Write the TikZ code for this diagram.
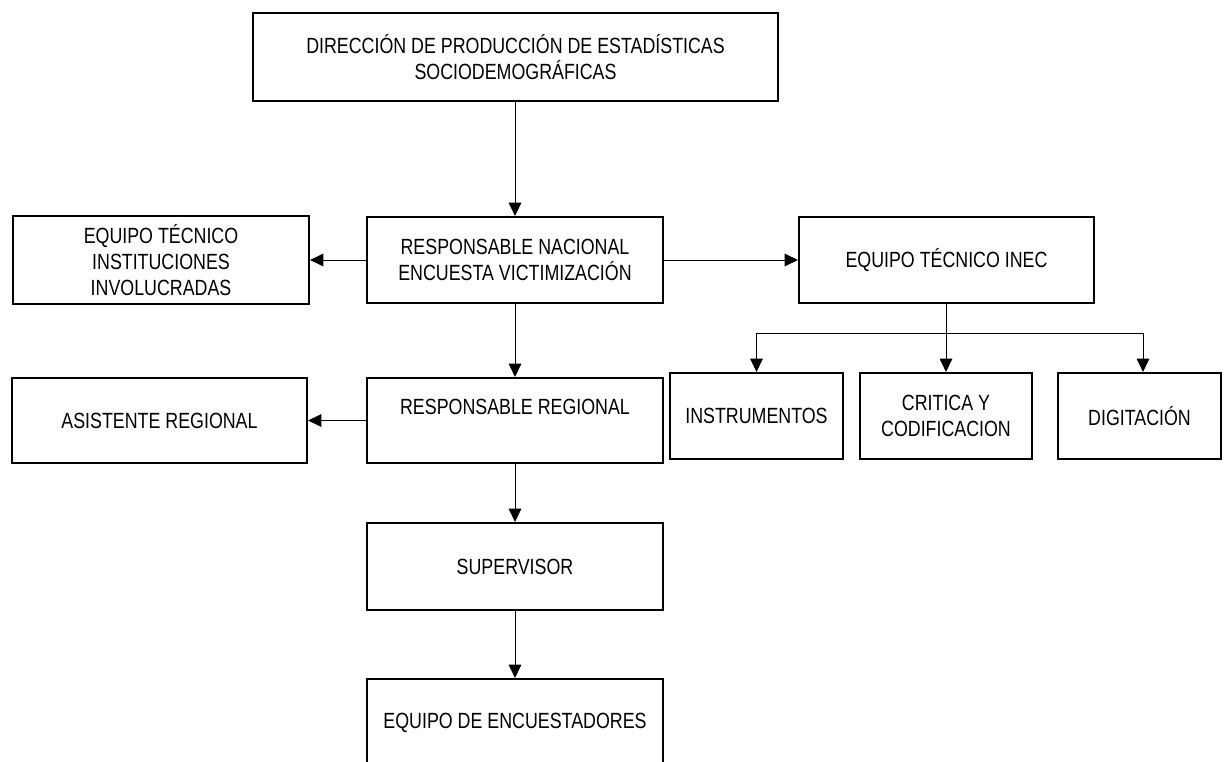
\documentclass[tikz,border=0pt]{standalone}
\usepackage{fontspec}
\setmainfont[FakeStretch=0.81]{Liberation Sans}
\usetikzlibrary{arrows.meta}
\begin{document}
\begin{tikzpicture}[x=0.75pt,y=-0.75pt,
  box/.style={draw=black, line width=1.6pt, align=center, inner sep=0pt,
    font=\fontsize{16.5pt}{19.8pt}\selectfont},
  conn/.style={draw=black, line width=0.7pt},
  arr/.style={conn, -{Triangle[length=10pt,width=9.5pt]}}]
\useasboundingbox (0,0) rectangle (1224,762);
\fill[white] (0,0) rectangle (1224,762);
\clip (0,0) rectangle (1224,762);

\node[box, minimum width=393.75pt, minimum height=66pt] (dir) at (515.5,57)
  {DIRECCIÓN DE PRODUCCIÓN DE ESTADÍSTICAS\\SOCIODEMOGRÁFICAS};
\node[box, minimum width=222pt, minimum height=66pt] (eti) at (161,260)
  {EQUIPO TÉCNICO\\INSTITUCIONES\\INVOLUCRADAS};
\node[box, minimum width=222pt, minimum height=64.5pt] (rn) at (515,260)
  {RESPONSABLE NACIONAL\\ENCUESTA VICTIMIZACIÓN};
\node[box, minimum width=221.25pt, minimum height=64.5pt] (inec) at (946.5,260)
  {EQUIPO TÉCNICO INEC};
\node[box, minimum width=221.25pt, minimum height=63.75pt] (ar) at (159.5,420.5)
  {ASISTENTE REGIONAL};
\node[box, minimum width=222pt, minimum height=63.75pt] (rr) at (515,420.5)
  {RESPONSABLE REGIONAL\\\mbox{}};
\node[box, minimum width=129.75pt, minimum height=64.5pt] (instr) at (756.5,416)
  {INSTRUMENTOS};
\node[box, minimum width=129pt, minimum height=64.5pt] (crit) at (946,416)
  {CRITICA Y\\CODIFICACION};
\node[box, minimum width=122.25pt, minimum height=64.5pt] (digit) at (1139.5,416)
  {DIGITACIÓN};
\node[box, minimum width=222pt, minimum height=65.25pt] (sup) at (515,566.5)
  {SUPERVISOR};
\node[box, minimum width=222pt, minimum height=65.25pt] (enc) at (515,722.5)
  {EQUIPO DE ENCUESTADORES};

\draw[arr] (dir.south -| rn.north) -- (rn.north);
\draw[arr] (rn.west) -- (eti.east |- rn.west);
\draw[arr] (rn.east) -- (inec.west);
\draw[arr] (rn.south) -- (rr.north);
\draw[arr] (rr.west) -- (ar.east);
\draw[arr] (rr.south) -- (sup.north);
\draw[arr] (sup.south) -- (enc.north);

\coordinate (busL) at (756.5,333);
\coordinate (busR) at (1143,333);
\draw[conn] (busL) -- (busR);
\draw[arr] (inec.south -| crit.north) -- (crit.north);
\draw[arr] (busL) -- (instr.north);
\draw[arr] (busR) -- (busR |- digit.north);
\end{tikzpicture}
\end{document}
